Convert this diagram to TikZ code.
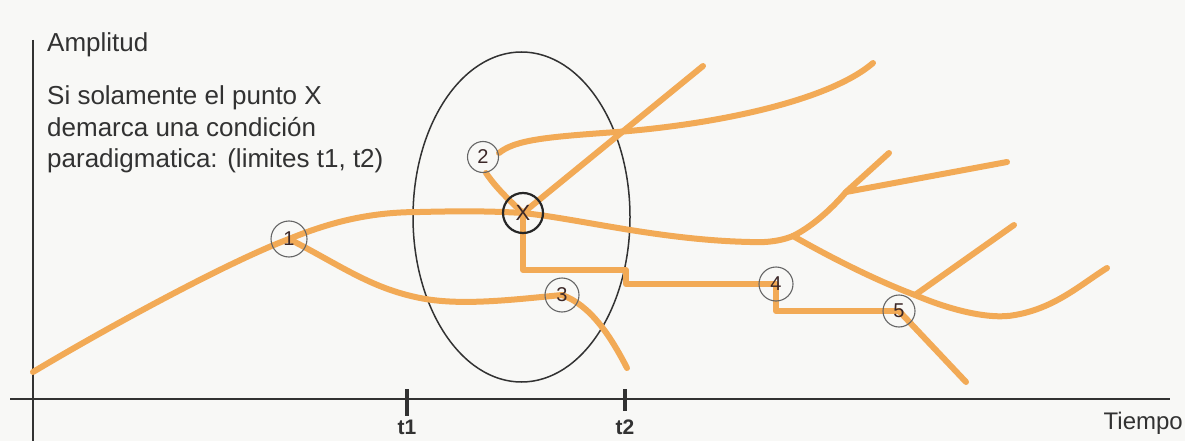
\documentclass[tikz,border=0pt]{standalone}
\usepackage{fontspec}
\setmainfont{Liberation Sans}
\definecolor{bg}{RGB}{248,248,246}
\definecolor{org}{RGB}{242,170,86}
\definecolor{ink}{RGB}{50,50,50}
\definecolor{numink}{RGB}{60,40,40}
\begin{document}
\begin{tikzpicture}[x=1pt,y=-1pt,
  branch/.style={draw=org,line width=6pt,line cap=round,line join=round},
  axisline/.style={draw=ink,line width=2pt},
  tick/.style={draw=ink,line width=4pt},
  numnode/.style={circle,draw=gray!80!black,line width=1.1pt,minimum size=34pt,inner sep=0pt,text=numink,font=\fontsize{20}{20}\selectfont},
  xnode/.style={circle,draw=black!85,line width=2.2pt,minimum size=40pt,inner sep=0pt,text=numink,font=\fontsize{22}{22}\selectfont},
  lbl/.style={text=ink,inner sep=0pt,font=\fontsize{26}{26}\selectfont},
  tlbl/.style={text=ink,inner sep=0pt,font=\bfseries\fontsize{21}{21}\selectfont}
]
\fill[bg] (0,0) rectangle (1185,441);
\useasboundingbox (0,0) rectangle (1185,441);

% coordinates
\coordinate (a0) at (33,372);
\coordinate (c1) at (289,239);
\coordinate (cX) at (523,213);
\coordinate (c2) at (483,157);
\coordinate (c2e) at (499,153);
\coordinate (c2s) at (486,173);
\coordinate (c3) at (562,295);
\coordinate (c4) at (776,284);
\coordinate (c5) at (899,311);
\coordinate (j1) at (793,236);
\coordinate (j2) at (846,192);
\coordinate (j3) at (915,295);
\coordinate (k1) at (617,132);
\coordinate (e1) at (889,153);
\coordinate (e2) at (1007,162);
\coordinate (e3) at (1014,225);
\coordinate (e4) at (1107,268);
\coordinate (e5) at (966,382);
\coordinate (e6) at (703,66);
\coordinate (e7) at (873,63);
\coordinate (e8) at (627,368);
\coordinate (s1) at (523,270);
\coordinate (s2) at (626,270);
\coordinate (s3) at (626,284);
\coordinate (s4) at (776,311);

% axes
\draw[axisline] (33,40) -- (33,441);
\draw[axisline] (10,399) -- (1170,399);
\draw[tick] (407,389) -- (407,416);
\draw[tick] (625,389) -- (625,411);

% ellipse
\draw[ink,line width=1.5pt] (521.5,217) ellipse [x radius=108.5, y radius=165];

% orange branches
\path[branch] (a0) .. controls (110,326) and (230,261) .. (c1)
   .. controls (340,218) and (380,212) .. (420,212)
   .. controls (460,211) and (490,211) .. (cX)
   .. controls (580,219) and (660,240) .. (750,242)
   .. controls (770,243) and (783,240) .. (j1);
\path[branch] (j1) .. controls (815,225) and (835,205) .. (j2) -- (e1);
\path[branch] (j2) -- (e2);
\path[branch] (j1) .. controls (835,260) and (880,282) .. (j3)
   .. controls (950,310) and (990,320) .. (1015,315)
   .. controls (1055,308) and (1080,285) .. (e4);
\path[branch] (j3) -- (e3);
\path[branch] (c5) -- (e5);
\path[branch] (c1) .. controls (340,265) and (370,288) .. (420,298)
   .. controls (460,306) and (510,300) .. (c3);
\path[branch] (c3) .. controls (590,305) and (610,335) .. (e8);
\path[branch] (cX) -- (e6);
\path[branch] (cX) -- (s1) -- (s2) -- (s3) -- (c4) -- (s4) -- (c5);
\path[branch] (c2e) .. controls (515,140) and (545,137) .. (k1)
   .. controls (720,124) and (830,100) .. (e7);
\path[branch] (c2s) .. controls (492,182) and (502,194) .. (cX);

% nodes
\node[numnode,minimum size=36pt] (n1) at (c1) {1};
\node[numnode,minimum size=31pt] (n2) at (c2) {2};
\node[numnode] (n3) at (c3) {3};
\node[numnode] (n4) at (c4) {4};
\node[numnode,minimum size=32pt] (n5) at (c5) {5};
\node[xnode] (nX) at (cX) {X};

% texts
\node[lbl,anchor=base west] (amp) at (47,52) {Amplitud};
\node[lbl,anchor=base west] (l1) at (47,105) {Si solamente el punto X};
\node[lbl,anchor=base west] (l2) at (47,136) {demarca una condición};
\node[lbl,anchor=base west] (l3) at (47,167) {paradigmatica: (limites t1, t2)};
\node[lbl,anchor=base east,font=\fontsize{24}{24}\selectfont] (tiempo) at (1183,429) {Tiempo};
\node[tlbl,anchor=north] (t1) at (407,420) {t1};
\node[tlbl,anchor=north] (t2) at (625,420) {t2};
\end{tikzpicture}
\end{document}
